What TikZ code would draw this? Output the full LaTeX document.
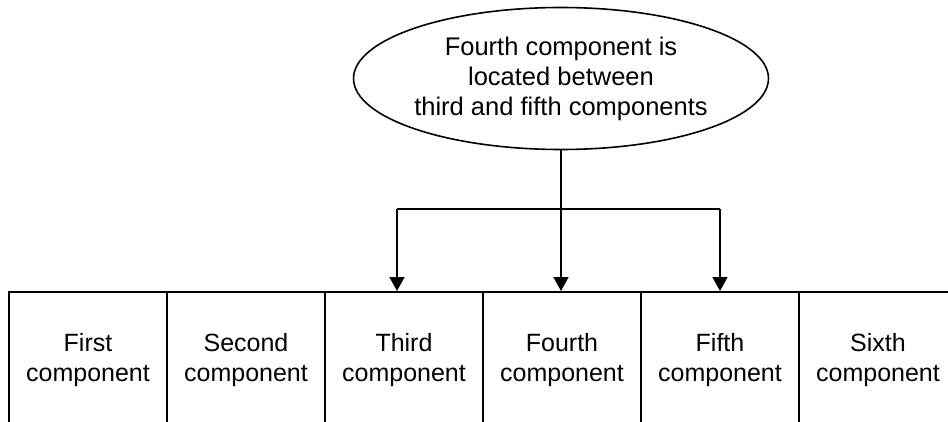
\documentclass[tikz,border=0pt]{standalone}
\usepackage{fontspec}
\setmainfont{Liberation Sans}
\usetikzlibrary{shapes.geometric,arrows.meta}
\begin{document}
\begin{tikzpicture}[x=1pt,y=-1pt,
  cell/.style={draw,line width=2pt,minimum width=158pt,minimum height=136pt,inner sep=0pt,align=center,font=\fontsize{25}{30}\selectfont},
  bubble/.style={draw,ellipse,line width=1.6pt,minimum width=366pt,minimum height=142pt,inner sep=0pt,align=center,font=\fontsize{25.5}{30}\selectfont},
  conn/.style={line width=1.6pt},
  arr/.style={line width=1.6pt,-{Triangle[length=14pt,width=15pt]}}]
\useasboundingbox (0,0) rectangle (948,422);
\clip (0,0) rectangle (948,422);
\node[cell] (c1) at (88,360) {First\\component};
\node[cell] (c2) at (246,360) {Second\\component};
\node[cell] (c3) at (404,360) {Third\\component};
\node[cell] (c4) at (562,360) {Fourth\\component};
\node[cell] (c5) at (720,360) {Fifth\\component};
\node[cell] (c6) at (878,360) {Sixth\\component};
\node[bubble] (ell) at (561,78.5) {Fourth component is\\located between\\third and fifth components};
\coordinate (hl) at (397,209);
\coordinate (hr) at (720,209);
\draw[arr] (ell.south) -- (ell.south |- c4.north);
\draw[conn] (hl) -- (hr);
\draw[arr] (hl) -- (hl |- c3.north);
\draw[arr] (hr) -- (c5.north);
\end{tikzpicture}
\end{document}
